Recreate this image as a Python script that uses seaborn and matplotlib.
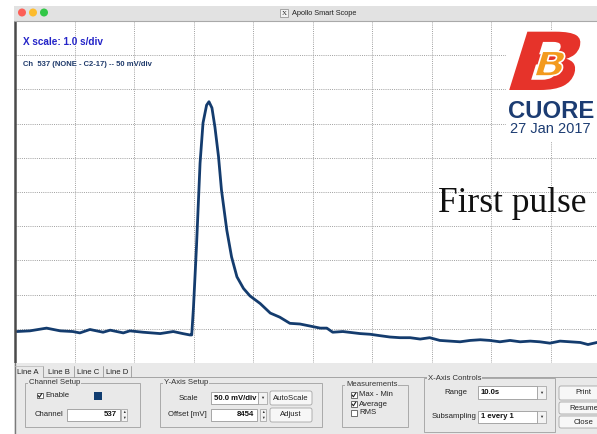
import matplotlib
matplotlib.use("Agg")
import matplotlib.pyplot as plt
import seaborn as sns
from matplotlib.patches import Rectangle, Circle, PathPatch, FancyBboxPatch
from matplotlib.textpath import TextPath
from matplotlib.font_manager import FontProperties
from matplotlib.transforms import Affine2D

# scope trace: time (s) and voltage (mV)
time_s = [0.03, 0.25, 0.53, 0.76, 0.97, 1.09, 1.26, 1.48, 1.60, 1.82, 1.93,
          2.15, 2.44, 2.66, 2.82, 2.94, 2.97, 3.00, 3.05, 3.11, 3.16, 3.22,
          3.26, 3.31, 3.36, 3.42, 3.47, 3.56, 3.64, 3.73, 3.84, 3.95, 4.12,
          4.29, 4.45, 4.62, 4.79, 4.96, 5.13, 5.24, 5.34, 5.51, 5.80, 5.97,
          6.13, 6.30, 6.47, 6.64, 6.81, 6.97, 7.14, 7.31, 7.48, 7.65, 7.82,
          7.98, 8.15, 8.32, 8.49, 8.66, 8.82, 8.99, 9.16, 9.33, 9.50, 9.63,
          9.78, 10.0]
volt_mv = [8250, 8251, 8255, 8251, 8250, 8248, 8253, 8249, 8252, 8248, 8251,
           8249, 8247, 8250, 8247, 8245, 8245, 8286, 8374, 8496, 8555, 8581,
           8586, 8577, 8549, 8506, 8457, 8398, 8359, 8330, 8313, 8302, 8291,
           8277, 8271, 8262, 8261, 8258, 8255, 8255, 8249, 8250, 8247, 8246,
           8244, 8242, 8241, 8241, 8239, 8241, 8237, 8236, 8235, 8237, 8238,
           8237, 8235, 8237, 8235, 8236, 8235, 8233, 8236, 8235, 8234, 8231,
           8234, 8234]

x_ticks = [0, 1, 2, 3, 4, 5, 6, 7, 8, 9, 10]          # 1.0 s/div
y_ticks = [8204, 8254, 8304, 8354, 8404, 8454, 8504, 8554, 8604, 8654, 8704]  # 50 mV/div

tab_names = ["Line A", "Line B", "Line C", "Line D"]
measurements = [("Max - Min", True), ("Average", True), ("RMS", False)]
side_buttons = ["Print", "Resume", "Close"]

sns.set_style("white")
plt.rcParams['font.family'] = ['Liberation Sans', 'DejaVu Sans']

W, H = 597, 434
fig = plt.figure(figsize=(W / 100, H / 100), dpi=100)
fig.patch.set_facecolor('white')

# scope screen
ax = fig.add_axes([15 / W, 1 - 363 / H, 595 / W, 342 / H])
sns.lineplot(x=time_s, y=volt_mv, ax=ax, color='#143c6e', linewidth=2.0)
ax.set_xlim(0, 10)
ax.set_ylim(8204, 8704)
ax.set_xticks(x_ticks)
ax.set_yticks(y_ticks)
ax.grid(True, color='#a0a0a0', linestyle=(0, (1, 1.2)), linewidth=0.7)
ax.tick_params(length=0, labelbottom=False, labelleft=False)
ax.set_xlabel('')
ax.set_ylabel('')
for s in ['top', 'right', 'bottom']:
    ax.spines[s].set_visible(False)
ax.spines['left'].set_color('#4a4a4a')
ax.spines['left'].set_linewidth(1.8)

# overlay in pixel coords (y down) for window chrome and labels
ov = fig.add_axes([0, 0, 1, 1], zorder=5)
ov.set_xlim(0, W)
ov.set_ylim(H, 0)
ov.axis('off')
ov.patch.set_alpha(0)

# title bar
ov.add_patch(Rectangle((14, 6), W - 14, 15, fc='#e2e2e2', ec='none'))
ov.plot([14, W], [20.8, 20.8], color='#a9a9a9', lw=0.8)
for cx, c in zip([22, 33, 44], ['#fc5f57', '#fdbc2e', '#33c748']):
    ov.add_patch(Circle((cx, 12.5), 4.0, fc=c, ec='none'))
ov.add_patch(Rectangle((280, 9), 8, 8, fc='#f2f2f2', ec='#888888', lw=0.5))
ov.text(284, 13.2, 'X', fontsize=5, ha='center', va='center', family=['Liberation Serif'])
ov.text(292, 13.2, 'Apollo Smart Scope', fontsize=5.3, ha='left', va='center', color='#222222')

# screen labels
ov.text(23, 45, 'X scale: 1.0 s/div', fontsize=7.2, weight='bold', color='#2424c8', va='baseline')
ov.text(23, 65.5, 'Ch  537 (NONE - C2-17) -- 50 mV/div', fontsize=5.5, weight='bold',
        color='#1f3a6b', va='baseline')
ov.text(438, 211.5, 'First pulse', fontsize=25.5, family=['Liberation Serif'],
        color='#111111', va='baseline')

# CUORE logo block
ov.add_patch(Rectangle((506, 30), W - 506, 112, fc='white', ec='none'))
fp = FontProperties(family='DejaVu Sans', weight='bold')
big_b = TextPath((0, 0), 'B', size=1, prop=fp)
ov.add_patch(PathPatch(Affine2D().skew_deg(14, 0).scale(100, -80).translate(500, 90).transform_path(big_b),
                       fc='#e6332a', ec='none'))
ov.add_patch(PathPatch(Affine2D().skew_deg(14, 0).scale(42, -34).translate(531, 76).transform_path(big_b),
                       fc='#f39a1e', ec='white', lw=1.2))
ov.text(508, 118, 'CUORE', fontsize=17.2, weight='bold', color='#1c3c72', va='baseline')
ov.text(510, 133, '27 Jan 2017', fontsize=10.5, color='#1c3c72', va='baseline')

# control panel
panel_bg = '#e9e9e9'
ov.add_patch(Rectangle((14, 363), W - 14, H - 363, fc=panel_bg, ec='none'))
ov.plot([14.5, 14.5], [363, H], color='#7a7a7a', lw=1.0)
fs = 5.6

tab_x = [17, 48, 77, 106]
sep_x = [43, 74, 103, 131]
for name, tx, sx in zip(tab_names, tab_x, sep_x):
    ov.text(tx, 372, name, fontsize=fs, va='center', color='#222222')
    ov.plot([sx, sx], [366, 377], color='#9a9a9a', lw=0.6)
ov.plot([15, 43], [365.5, 365.5], color='#bdbdbd', lw=0.6)
ov.plot([43, W], [377, 377], color='#9a9a9a', lw=0.6)


def group(x0, y0, x1, y1, label):
    ov.add_patch(Rectangle((x0, y0), x1 - x0, y1 - y0, fill=False, ec='#a0a0a0', lw=0.6))
    ov.text(x0 + 4, y0, label, fontsize=fs, va='center', ha='left', color='#333333',
            bbox=dict(fc=panel_bg, ec='none', pad=0.5))


def checkbox(x, y, checked, label):
    ov.add_patch(Rectangle((x, y - 2.8), 5.6, 5.6, fc='white', ec='#555555', lw=0.6))
    if checked:
        ov.plot([x + 1, x + 2.4, x + 4.8], [y, y + 1.8, y - 2], color='#222222', lw=0.8)
    ov.text(x + 8, y, label, fontsize=fs, va='center', color='#222222')


def field(x0, y0, x1, y1, text, align='right', bold=True):
    ov.add_patch(Rectangle((x0, y0), x1 - x0, y1 - y0, fc='white', ec='#9a9a9a', lw=0.6))
    tx = x1 - 3 if align == 'right' else x0 + 3
    ov.text(tx, (y0 + y1) / 2, text, fontsize=fs, ha=align, va='center',
            weight='bold' if bold else 'normal', color='#111111')


def spinner(x, y0, y1):
    ov.add_patch(Rectangle((x, y0), 6, y1 - y0, fc='#f3f3f3', ec='#9a9a9a', lw=0.5))
    ov.text(x + 3, y0 + 3, '▲', fontsize=2.6, ha='center', va='center', color='#333333')
    ov.text(x + 3, y1 - 3, '▼', fontsize=2.6, ha='center', va='center', color='#333333')


def combo(x0, y0, x1, y1, text):
    field(x0, y0, x1 - 9, y1, text, align='left')
    ov.add_patch(Rectangle((x1 - 9, y0), 9, y1 - y0, fc='#f3f3f3', ec='#9a9a9a', lw=0.5))
    ov.text(x1 - 4.5, (y0 + y1) / 2, '▼', fontsize=3, ha='center', va='center', color='#333333')


def button(x0, y0, x1, y1, text):
    ov.add_patch(FancyBboxPatch((x0, y0), x1 - x0, y1 - y0, boxstyle='round,pad=0,rounding_size=2',
                                fc='#f7f7f7', ec='#a5a5a5', lw=0.6))
    ov.text((x0 + x1) / 2, (y0 + y1) / 2, text, fontsize=fs, ha='center', va='center', color='#222222')


# Channel Setup
group(25, 383, 140, 427, 'Channel Setup')
checkbox(37, 395.5, True, 'Enable')
ov.add_patch(Rectangle((94, 392), 8, 8, fc='#103c70', ec='none'))
ov.text(35, 415, 'Channel', fontsize=fs, va='center', color='#222222')
field(67, 409, 120, 421, '537')
spinner(121, 409, 421)

# Y-Axis Setup
group(160, 383, 322, 427, 'Y-Axis Setup')
ov.text(198, 398, 'Scale', fontsize=fs, ha='right', va='center', color='#222222')
combo(211, 392, 267, 404, '50.0 mV/div')
button(270, 391, 312, 405, 'AutoScale')
ov.text(207, 415, 'Offset [mV]', fontsize=fs, ha='right', va='center', color='#222222')
field(211, 409, 257, 421, '8454')
spinner(260, 409, 421)
button(270, 408, 312, 422, 'Adjust')

# Measurements
group(342, 385, 408, 427, 'Measurements')
for (label, on), my in zip(measurements, [395, 404, 413]):
    checkbox(351, my, on, label)

# X-Axis Controls
group(424, 378, 555, 432, 'X-Axis Controls')
ov.text(467, 392.5, 'Range', fontsize=fs, ha='right', va='center', color='#222222')
combo(478, 386, 546, 399, '10.0s')
ov.text(477, 417, 'Subsampling', fontsize=fs, ha='right', va='center', color='#222222')
combo(478, 411, 546, 423, '1 every 1')

# side buttons
for label, (by0, by1) in zip(side_buttons, [(386, 400), (402, 414), (416, 428)]):
    button(559, by0, 608, by1, label)

fig.savefig('out.png', dpi=100)
